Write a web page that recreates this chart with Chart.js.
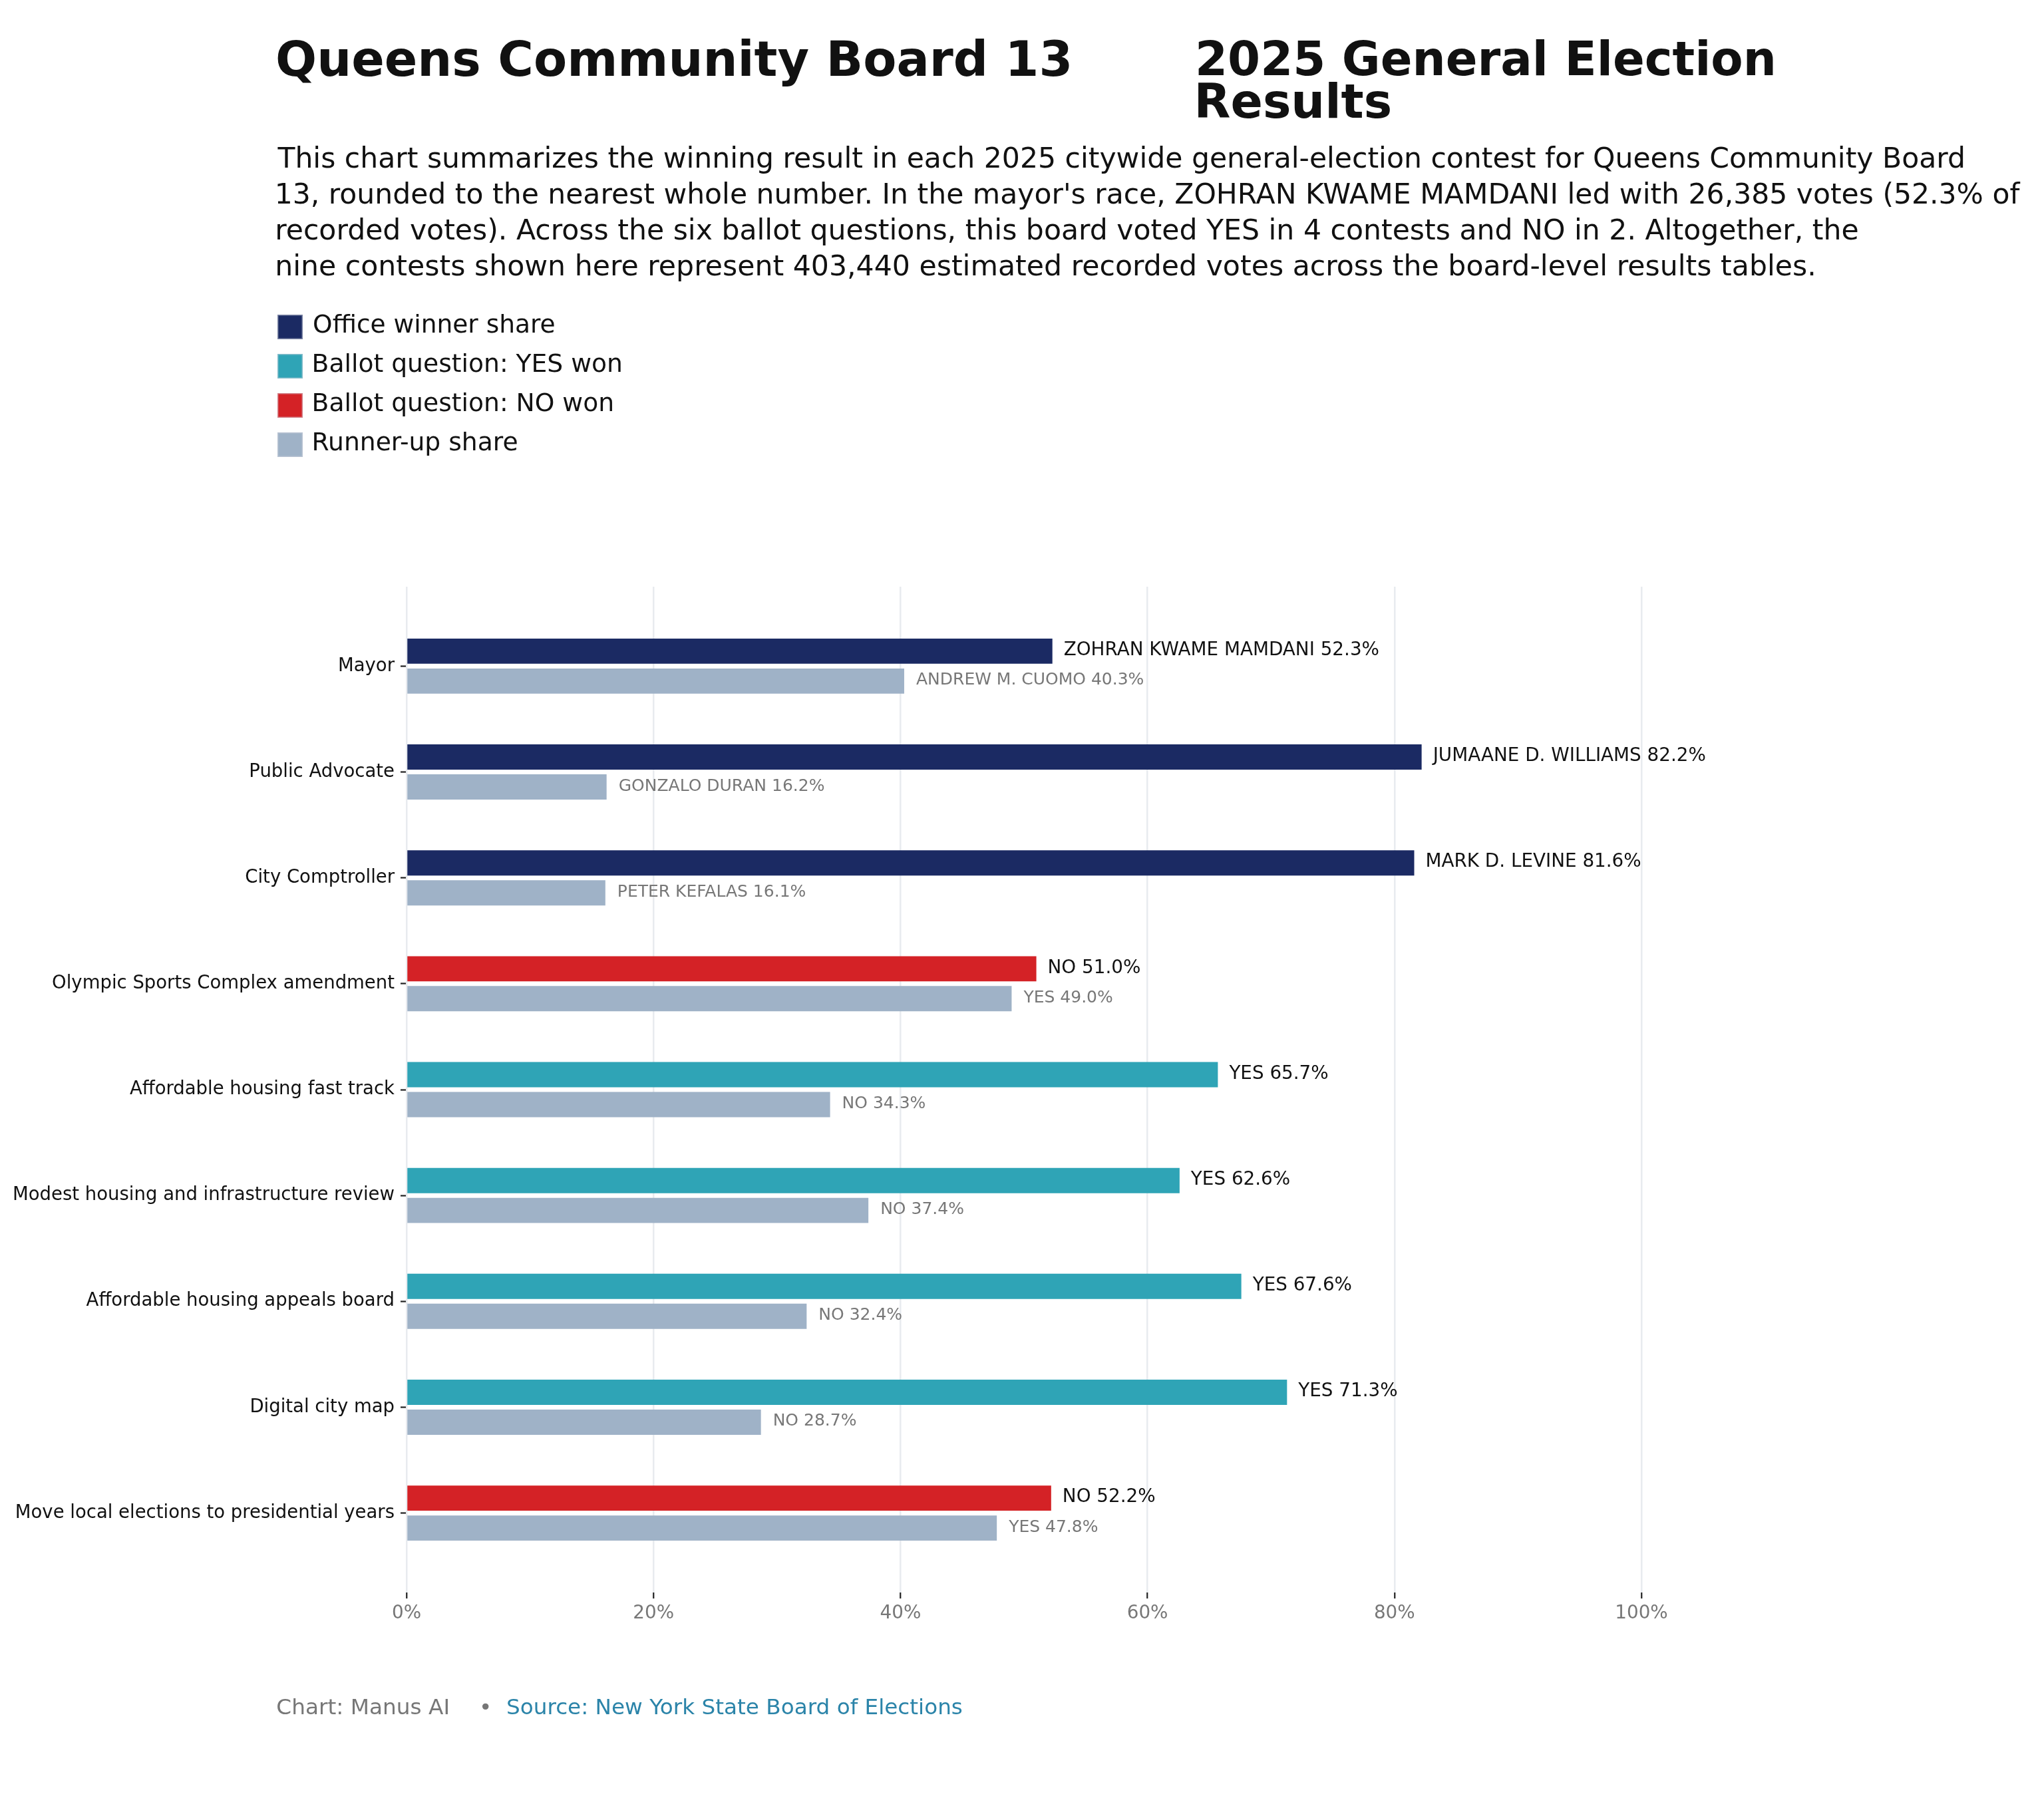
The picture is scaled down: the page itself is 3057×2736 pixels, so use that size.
<!DOCTYPE html>
<html>
<head>
<meta charset="utf-8">
<script src="https://cdn.jsdelivr.net/npm/chart.js@4.4.1/dist/chart.umd.min.js"></script>
<style>
  html, body { margin: 0; padding: 0; background: #ffffff; }
  body { width: 3057px; height: 2736px; position: relative; overflow: hidden; font-family: "DejaVu Sans", sans-serif; }
  #chart { position: absolute; left: 0; top: 0; }
  .t { position: absolute; white-space: nowrap; line-height: 1; color: #111111; font-family: "DejaVu Sans", sans-serif; }
  .sw { position: absolute; width: 38px; height: 37px; box-shadow: inset 0 0 0 1.5px rgba(205,210,220,0.55); }
</style>
</head>
<body>
<canvas id="chart" width="3057" height="2736" style="width:3057px;height:2736px;"></canvas>
<div id="texts"></div>

<script>
// ---------------- data ----------------
const categories = [
  "Mayor",
  "Public Advocate",
  "City Comptroller",
  "Olympic Sports Complex amendment",
  "Affordable housing fast track",
  "Modest housing and infrastructure review",
  "Affordable housing appeals board",
  "Digital city map",
  "Move local elections to presidential years"
];
const winnerNames = ["ZOHRAN KWAME MAMDANI", "JUMAANE D. WILLIAMS", "MARK D. LEVINE", "NO", "YES", "YES", "YES", "YES", "NO"];
const winnerShares = [52.3, 82.2, 81.6, 51.0, 65.7, 62.6, 67.6, 71.3, 52.2];
const winnerKinds = ["office", "office", "office", "no", "yes", "yes", "yes", "yes", "no"];
const runnerNames = ["ANDREW M. CUOMO", "GONZALO DURAN", "PETER KEFALAS", "YES", "NO", "NO", "NO", "NO", "YES"];
const runnerShares = [40.3, 16.2, 16.1, 49.0, 34.3, 37.4, 32.4, 28.7, 47.8];
const xTickValues = [0, 20, 40, 60, 80, 100];
const legendLabels = ["Office winner share", "Ballot question: YES won", "Ballot question: NO won", "Runner-up share"];
const titleLeft = "Queens Community Board 13";
const titleRight = ["2025 General Election", "Results"];
const descriptionLines = [
  "This chart summarizes the winning result in each 2025 citywide general-election contest for Queens Community Board",
  "13, rounded to the nearest whole number. In the mayor's race, ZOHRAN KWAME MAMDANI led with 26,385 votes (52.3% of",
  "recorded votes). Across the six ballot questions, this board voted YES in 4 contests and NO in 2. Altogether, the",
  "nine contests shown here represent 403,440 estimated recorded votes across the board-level results tables."
];
const footerCredit = "Chart: Manus AI";
const footerSource = "Source: New York State Board of Elections";

// ---------------- styles ----------------
const kindColors = { office: "#1b2a63", yes: "#2fa4b6", no: "#d42226" };
const runnerColor = "#9fb2c7";
const legendColors = [kindColors.office, kindColors.yes, kindColors.no, runnerColor];
const FONT = "'DejaVu Sans', sans-serif";

// ---------------- HTML text placed by ink extents ----------------
const holder = document.getElementById("texts");
const mctx = document.createElement("canvas").getContext("2d");
function placeText(text, weight, inkLeft, inkRight, baseline, color) {
  mctx.font = weight + " 100px " + FONT;
  const m = mctx.measureText(text);
  const ink = m.actualBoundingBoxLeft + m.actualBoundingBoxRight;
  const size = 100 * (inkRight - inkLeft) / ink;
  const originX = inkLeft + m.actualBoundingBoxLeft * size / 100;
  const el = document.createElement("div");
  el.className = "t";
  el.textContent = text;
  el.style.fontSize = size + "px";
  el.style.fontWeight = weight;
  el.style.color = color || "#111111";
  el.style.left = originX + "px";
  el.style.top = (baseline - 0.846 * size) + "px";
  holder.appendChild(el);
  return size;
}
function placeSized(text, weight, size, originX, baseline, color) {
  const el = document.createElement("div");
  el.className = "t";
  el.textContent = text;
  el.style.fontSize = size + "px";
  el.style.fontWeight = weight;
  el.style.color = color;
  el.style.left = originX + "px";
  el.style.top = (baseline - 0.846 * size) + "px";
  holder.appendChild(el);
}

placeText(titleLeft, "bold", 417, 1607, 114);
placeText(titleRight[0], "bold", 1801, 2665, 113.5);
placeText(titleRight[1], "bold", 1801, 2089, 177);

const descEnds = [2951, 3037, 2793, 2726];
const descBase = [253, 307, 360, 414];
descriptionLines.forEach((ln, i) => placeText(ln, "normal", 417, descEnds[i], descBase[i]));

const legTops = [473, 532, 591, 650];
const legEnds = [833, 933, 920, 777];
legendLabels.forEach((lab, i) => {
  const sw = document.createElement("div");
  sw.className = "sw";
  sw.style.left = "417px";
  sw.style.top = legTops[i] + "px";
  sw.style.background = legendColors[i];
  holder.appendChild(sw);
  placeText(lab, "normal", 472, legEnds[i], legTops[i] + 28);
});

const fsize = placeText(footerCredit, "normal", 417, 673, 2578, "#777777");
placeSized("•", "normal", fsize, 720, 2578, "#777777");
placeText(footerSource, "normal", 763, 1446, 2578, "#2b84a9");

// ---------------- chart ----------------
const barLabels = {
  id: "barLabels",
  afterDatasetsDraw(chart) {
    const ctx = chart.ctx;
    ctx.save();
    ctx.textAlign = "left";
    ctx.textBaseline = "middle";
    const m0 = chart.getDatasetMeta(0);
    ctx.font = "27.8px " + FONT;
    ctx.fillStyle = "#111111";
    m0.data.forEach((bar, i) => {
      ctx.fillText(winnerNames[i] + " " + winnerShares[i].toFixed(1) + "%", bar.x + 17, bar.y - 1);
    });
    const m1 = chart.getDatasetMeta(1);
    ctx.font = "25px " + FONT;
    ctx.fillStyle = "#777777";
    m1.data.forEach((bar, i) => {
      ctx.fillText(runnerNames[i] + " " + runnerShares[i].toFixed(1) + "%", bar.x + 18, bar.y - 1);
    });
    ctx.restore();
  }
};

new Chart(document.getElementById("chart"), {
  type: "bar",
  data: {
    datasets: [
      {
        label: "Winner",
        data: winnerShares.map((v, i) => ({ x: v, y: i })),
        backgroundColor: winnerKinds.map(k => kindColors[k]),
        borderWidth: 0
      },
      {
        label: "Runner-up",
        data: runnerShares.map((v, i) => ({ x: v, y: i })),
        backgroundColor: runnerColor,
        borderWidth: 0
      }
    ]
  },
  options: {
    indexAxis: "y",
    responsive: false,
    animation: false,
    devicePixelRatio: 1,
    categoryPercentage: 0.565,
    barPercentage: 0.844,
    layout: { padding: { top: 882, right: 590, bottom: 282, left: 0 } },
    plugins: { legend: { display: false }, tooltip: { enabled: false }, title: { display: false } },
    scales: {
      y: {
        type: "linear",
        min: -0.75,
        max: 8.75,
        reverse: true,
        offset: false,
        afterBuildTicks(axis) { axis.ticks = categories.map((_, i) => ({ value: i })); },
        afterFit(scale) { scale.width = 611; },
        border: { display: false },
        grid: { offset: false, drawOnChartArea: false, drawTicks: true, tickLength: 9, tickColor: "#222222", tickWidth: 2.2 },
        ticks: {
          autoSkip: false,
          padding: 9,
          color: "#111111",
          font: { family: FONT, size: 27.5 },
          callback: (v) => categories[v]
        }
      },
      x: {
        type: "linear",
        min: 0,
        max: 100,
        position: "bottom",
        offset: false,
        afterBuildTicks(axis) { axis.ticks = xTickValues.map(v => ({ value: v })); },
        afterFit(scale) { scale.height = 60; },
        border: { display: false },
        grid: { offset: false, color: "#e8ebef", lineWidth: 2.5, drawTicks: true, tickLength: 9, tickColor: "#222222", tickWidth: 2.2 },
        ticks: {
          padding: 6,
          color: "#777777",
          font: { family: FONT, size: 27.8 },
          callback: (v) => v + "%"
        }
      }
    }
  },
  plugins: [barLabels]
});
</script>
</body>
</html>
